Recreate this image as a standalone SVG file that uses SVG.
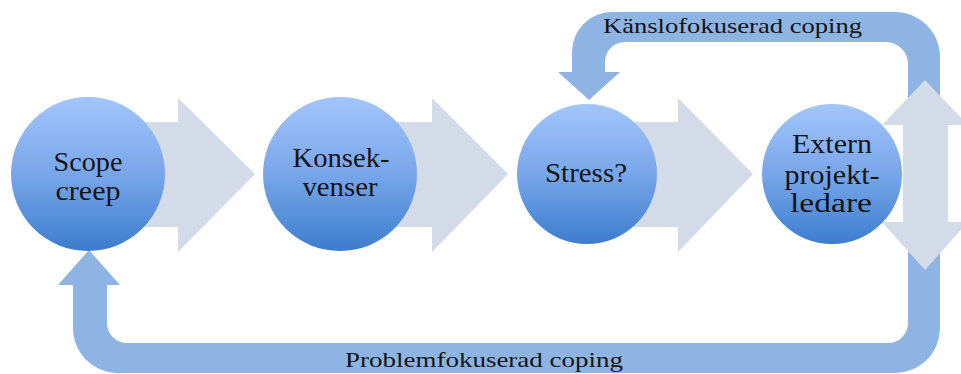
<svg xmlns="http://www.w3.org/2000/svg" width="961" height="374" viewBox="0 0 961 374">
  <defs>
    <linearGradient id="ball" x1="0" y1="0" x2="0" y2="1">
      <stop offset="0" stop-color="#A2C6FB"/>
      <stop offset="0.5" stop-color="#78A6EA"/>
      <stop offset="1" stop-color="#3C7DCD"/>
    </linearGradient>
  </defs>
  <style>
    .band { fill: #8EB4E3; }
    .block { fill: #D3DAE8; }
    .ball { fill: url(#ball); }
    .t { font-family: "Liberation Serif", "Times New Roman", serif; font-size: 27px; fill: #141414; text-anchor: middle; }
    .lbl { font-family: "Liberation Serif", "Times New Roman", serif; font-size: 22px; fill: #141414; }
  </style>

  <g id="connectors">
    <path class="band" d="M 908 180 L 908 64 A 22 22 0 0 0 886 42 L 625 42 A 20 20 0 0 0 605 62 L 605 72 L 620 72 L 589 100 L 558 72 L 572 72 L 572 52 A 40 40 0 0 1 612 12 L 895 12 A 45 45 0 0 1 940 57 L 940 180 Z"/>
    <path class="band" d="M 908 170 L 908 323 A 20 20 0 0 1 888 343 L 127 343 A 20 20 0 0 1 107 323 L 107 285 L 120 285 L 89 250 L 58 285 L 73 285 L 73 328 A 45 45 0 0 0 118 373 L 895 373 A 45 45 0 0 0 940 328 L 940 170 Z"/>
    <path class="block" d="M 88 122 L 178 122 L 178 98 L 255 174 L 178 252 L 178 227 L 88 227 Z"/>
    <path class="block" d="M 340 122 L 432 122 L 432 98 L 508 174 L 432 252 L 432 227 L 340 227 Z"/>
    <path class="block" d="M 587 122 L 678 122 L 678 98 L 753 174 L 678 252 L 678 227 L 587 227 Z"/>
    <path class="block" d="M 925 80 L 968 125 L 948 125 L 948 222 L 968 222 L 925 270 L 882 222 L 903 222 L 903 125 L 882 125 Z"/>
  </g>

  <g id="label-kansla">
    <text class="lbl" x="603" y="33" textLength="259" lengthAdjust="spacingAndGlyphs">Känslofokuserad coping</text>
  </g>
  <g id="label-problem">
    <text class="lbl" x="345" y="367" textLength="278" lengthAdjust="spacingAndGlyphs">Problemfokuserad coping</text>
  </g>

  <g id="node-scope">
    <circle class="ball" cx="88" cy="174" r="77"/>
    <text class="t" x="88" y="171" textLength="69" lengthAdjust="spacingAndGlyphs">Scope</text>
    <text class="t" x="88" y="200" textLength="65" lengthAdjust="spacingAndGlyphs">creep</text>
  </g>
  <g id="node-konsekvenser">
    <circle class="ball" cx="340" cy="174" r="77"/>
    <text class="t" x="341" y="167" textLength="97" lengthAdjust="spacingAndGlyphs">Konsek-</text>
    <text class="t" x="340" y="196" textLength="75" lengthAdjust="spacingAndGlyphs">venser</text>
  </g>
  <g id="node-stress">
    <circle class="ball" cx="587" cy="174" r="70"/>
    <text class="t" x="586" y="182" textLength="82" lengthAdjust="spacingAndGlyphs">Stress?</text>
  </g>
  <g id="node-extern">
    <circle class="ball" cx="832" cy="174" r="70"/>
    <text class="t" x="832" y="153" textLength="80" lengthAdjust="spacingAndGlyphs">Extern</text>
    <text class="t" x="832" y="184" textLength="95" lengthAdjust="spacingAndGlyphs">projekt-</text>
    <text class="t" x="831" y="212" textLength="82" lengthAdjust="spacingAndGlyphs">ledare</text>
  </g>
</svg>
